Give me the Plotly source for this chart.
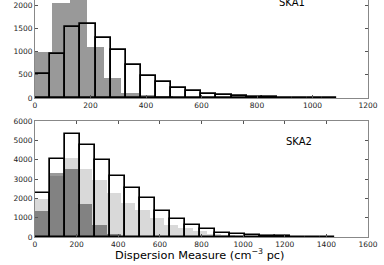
import plotly.graph_objects as go

# ---- data ----
# Top panel (SKA1)
ska1_outline_width = 54.5
ska1_outline = [518, 935, 1532, 1596, 1280, 1028, 700, 470, 338, 216,
                151, 86, 55, 30, 20, 12, 8, 5, 3, 2]
ska1_gray_width = 62.2
ska1_gray = [992, 2035, 2130, 1100, 420, 115, 60, 38, 20, 12,
             8, 5, 4, 3, 2, 2, 1, 1]

# Bottom panel (SKA2)
ska2_outline_width = 72.0
ska2_outline = [2282, 4046, 5308, 4772, 3959, 3164, 2540, 1988, 1349, 916,
                640, 398, 225, 150, 100, 45, 40, 5, 3, 2]
ska2_shade_width = 68.8
ska2_light = [1954, 3150, 4098, 3527, 2922, 2282, 1764, 1383, 985, 605,
              467, 294, 173, 110, 60, 40, 25, 15, 10, 6, 4]
ska2_dark = [1349, 3285, 3493, 1729, 605, 138, 52, 15, 5, 3,
             2, 1, 1]

top_xticks = [0, 200, 400, 600, 800, 1000, 1200]
top_yticks = [0, 500, 1000, 1500, 2000]
bot_xticks = [0, 200, 400, 600, 800, 1000, 1200, 1400, 1600]
bot_yticks = [0, 1000, 2000, 3000, 4000, 5000, 6000]


def centers(n, w):
    return [(i + 0.5) * w for i in range(n)]


fig = go.Figure()

# top panel
fig.add_trace(go.Bar(x=centers(len(ska1_gray), ska1_gray_width), y=ska1_gray,
                     width=ska1_gray_width, marker=dict(color="rgba(0,0,0,0.4)",
                     line=dict(width=0)), xaxis="x", yaxis="y"))
fig.add_trace(go.Bar(x=centers(len(ska1_outline), ska1_outline_width), y=ska1_outline,
                     width=ska1_outline_width, marker=dict(color="rgba(0,0,0,0)",
                     line=dict(color="black", width=1.7)), xaxis="x", yaxis="y"))

# bottom panel
fig.add_trace(go.Bar(x=centers(len(ska2_light), ska2_shade_width), y=ska2_light,
                     width=ska2_shade_width, marker=dict(color="rgba(0,0,0,0.15)",
                     line=dict(width=0)), xaxis="x2", yaxis="y2"))
fig.add_trace(go.Bar(x=centers(len(ska2_dark), ska2_shade_width), y=ska2_dark,
                     width=ska2_shade_width, marker=dict(color="rgba(0,0,0,0.4)",
                     line=dict(width=0)), xaxis="x2", yaxis="y2"))
fig.add_trace(go.Bar(x=centers(len(ska2_outline), ska2_outline_width), y=ska2_outline,
                     width=ska2_outline_width, marker=dict(color="rgba(0,0,0,0)",
                     line=dict(color="black", width=1.7)), xaxis="x2", yaxis="y2"))

tickfont = dict(family="DejaVu Sans", size=7.5, color="#222")
common = dict(showgrid=False, zeroline=False, ticks="inside", ticklen=3,
              tickcolor="#555", linecolor="#888", linewidth=1, showline=True,
              tickfont=tickfont, automargin=False)

fig.update_layout(
    width=384, height=265,
    margin=dict(l=35, r=16, t=0, b=28, autoexpand=False),
    paper_bgcolor="white", plot_bgcolor="white",
    barmode="overlay", bargap=0, showlegend=False,
    xaxis=dict(domain=[0, 1], anchor="y", range=[0, 1200], tickvals=top_xticks,
               mirror=False, **common),
    yaxis=dict(domain=[0.587, 1], anchor="x", range=[0, 2108], tickvals=top_yticks,
               mirror="ticks", **common),
    xaxis2=dict(domain=[0, 1], anchor="y2", range=[0, 1600], tickvals=bot_xticks,
                mirror="ticks", **common),
    yaxis2=dict(domain=[0, 0.489], anchor="x2", range=[0, 6000], tickvals=bot_yticks,
                mirror="ticks", **common),
    annotations=[
        dict(text="SKA1", x=927, y=2055, xref="x", yref="y", showarrow=False,
             yanchor="middle", font=dict(family="DejaVu Sans", size=10, color="black")),
        dict(text="SKA2", x=1269, y=4937, xref="x2", yref="y2", showarrow=False,
             font=dict(family="DejaVu Sans", size=10, color="black")),
        dict(text="Dispersion Measure (cm<sup>−3</sup> pc)", x=0.495, y=-0.073,
             xref="paper", yref="paper", showarrow=False, yanchor="middle",
             font=dict(family="DejaVu Sans", size=11.3, color="black")),
    ],
)

fig.write_html("out.html", config={"displayModeBar": False},
               post_script="document.body.style.margin='0';document.body.style.overflow='hidden';")
